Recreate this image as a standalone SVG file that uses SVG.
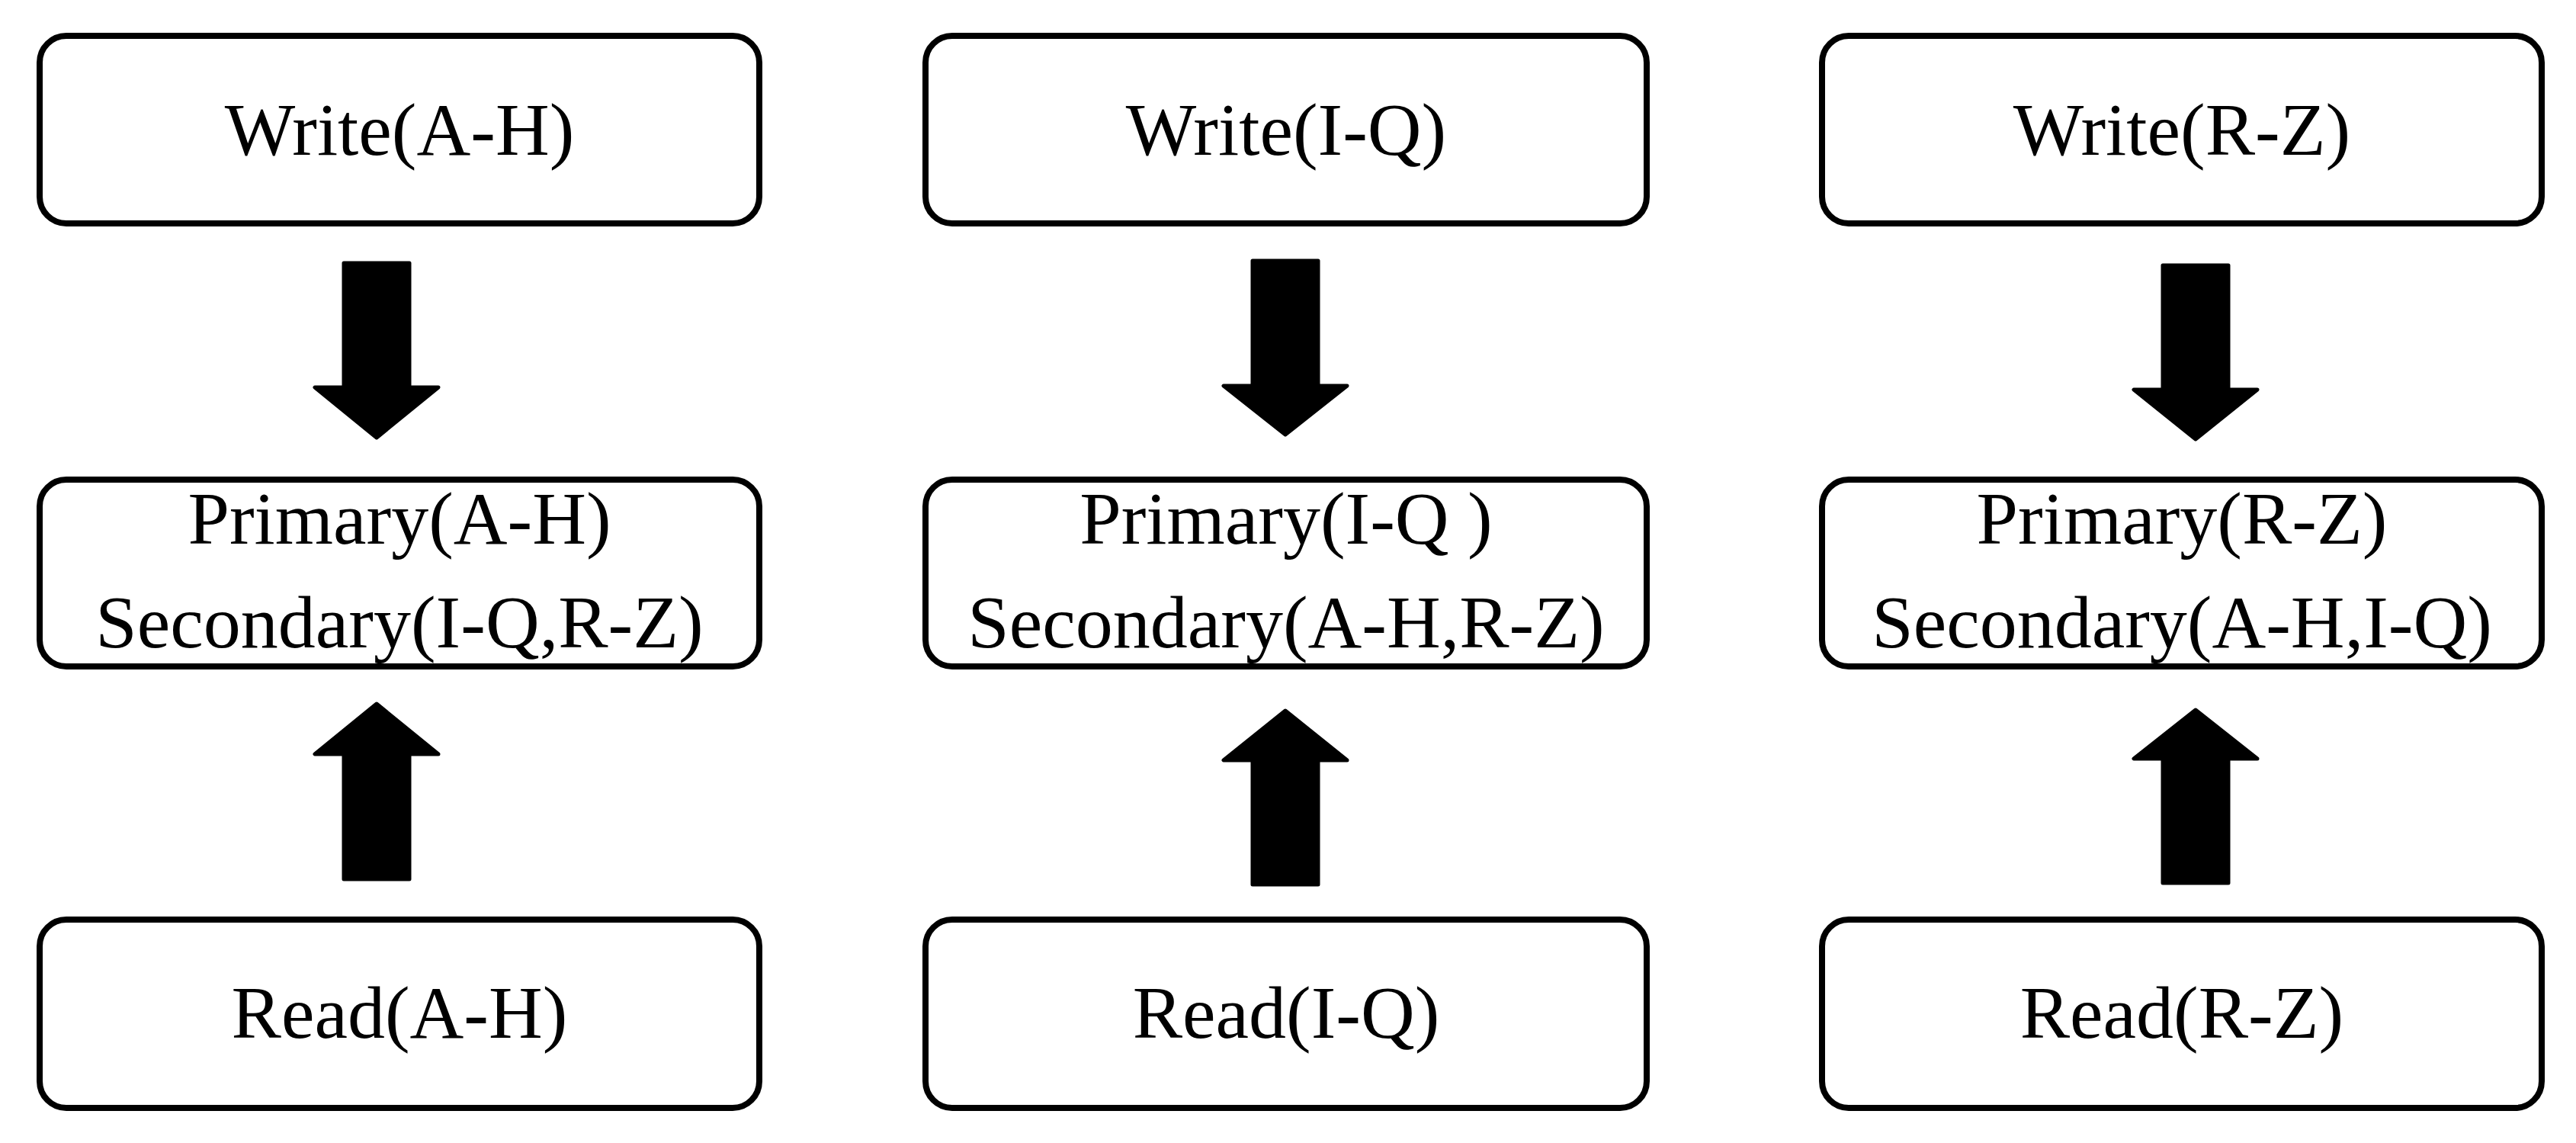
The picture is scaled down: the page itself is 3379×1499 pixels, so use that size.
<svg xmlns="http://www.w3.org/2000/svg" width="3379" height="1499" viewBox="0 0 3379 1499">
<style>
.box{fill:#fff;stroke:#000;stroke-width:8}
.lbl{font-family:"Liberation Serif","Times New Roman",serif;font-size:98px;fill:#000;text-anchor:middle}
.arr{fill:#000;stroke:#000;stroke-width:5;stroke-linejoin:round}
</style>
<rect width="3379" height="1499" fill="#fff"/>
<g id="connectors">
<path class="arr" d="M451,345 L537,345 L537,508 L575,508 L494,574 L413,508 L451,508 Z"/>
<path class="arr" d="M451,1153 L537,1153 L537,989 L575,989 L494,923 L413,989 L451,989 Z"/>
<path class="arr" d="M1643,342 L1729,342 L1729,506 L1767,506 L1686,570 L1605,506 L1643,506 Z"/>
<path class="arr" d="M1643,1160 L1729,1160 L1729,997 L1767,997 L1686,932 L1605,997 L1643,997 Z"/>
<path class="arr" d="M2837,348 L2923,348 L2923,511 L2961,511 L2880,576 L2799,511 L2837,511 Z"/>
<path class="arr" d="M2837,1158 L2923,1158 L2923,995 L2961,995 L2880,931 L2799,995 L2837,995 Z"/>
</g>
<g id="write-ah"><rect class="box" x="52" y="47" width="944" height="246" rx="35"/><text class="lbl" x="524" y="203">Write(A-H)</text></g>
<g id="write-iq"><rect class="box" x="1214" y="47" width="946" height="246" rx="35"/><text class="lbl" x="1687" y="203">Write(I-Q)</text></g>
<g id="write-rz"><rect class="box" x="2390" y="47" width="944" height="246" rx="35"/><text class="lbl" x="2862" y="203">Write(R-Z)</text></g>
<g id="node-ah"><rect class="box" x="52" y="629" width="944" height="245" rx="35"/><text class="lbl" x="524" y="713">Primary(A-H)</text><text class="lbl" x="524" y="849">Secondary(I-Q,R-Z)</text></g>
<g id="node-iq"><rect class="box" x="1214" y="629" width="946" height="245" rx="35"/><text class="lbl" x="1687" y="713" xml:space="preserve">Primary(I-Q )</text><text class="lbl" x="1687" y="849">Secondary(A-H,R-Z)</text></g>
<g id="node-rz"><rect class="box" x="2390" y="629" width="944" height="245" rx="35"/><text class="lbl" x="2862" y="713">Primary(R-Z)</text><text class="lbl" x="2862" y="849">Secondary(A-H,I-Q)</text></g>
<g id="read-ah"><rect class="box" x="52" y="1206" width="944" height="247" rx="35"/><text class="lbl" x="524" y="1361">Read(A-H)</text></g>
<g id="read-iq"><rect class="box" x="1214" y="1206" width="946" height="247" rx="35"/><text class="lbl" x="1687" y="1361">Read(I-Q)</text></g>
<g id="read-rz"><rect class="box" x="2390" y="1206" width="944" height="247" rx="35"/><text class="lbl" x="2862" y="1361">Read(R-Z)</text></g>
</svg>
